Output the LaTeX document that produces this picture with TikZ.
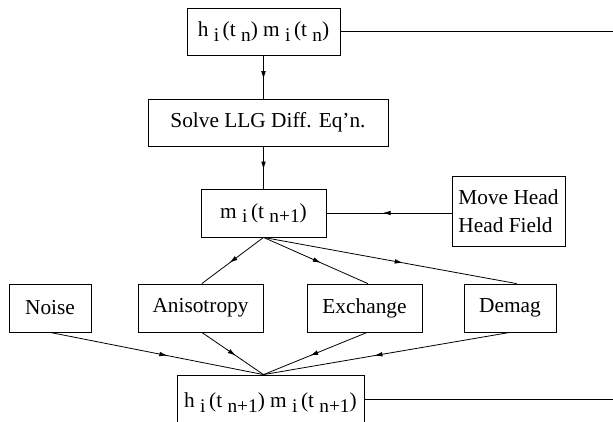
\documentclass[tikz,border=0pt]{standalone}
\usepackage{fontspec}
\setmainfont{Liberation Serif}
\usetikzlibrary{arrows.meta,decorations.markings}
\newcommand{\lowsub}[1]{\raisebox{-0.45ex}{\fontsize{14.5}{14.5}\selectfont #1}}
\tikzset{
  blk/.style={draw, rectangle, inner sep=0pt, line width=0.6pt, font=\fontsize{16}{21}\selectfont},
  midarrow/.style={line width=0.6pt, postaction={decorate},
    decoration={markings, mark=at position 0.55 with {\arrow{Latex[length=6pt,width=3.5pt]}}}}
}
\begin{document}
\begin{tikzpicture}[x=0.75pt,y=-0.75pt]
  \useasboundingbox (0,0) rectangle (613,421);
  \node[blk, minimum width=114.75pt, minimum height=35.25pt] (htn) at (263.5,31.5)
    {h \lowsub{i}\,(t \lowsub{n}) m \lowsub{i}\,(t \lowsub{n})};
  \node[blk, minimum width=180pt, minimum height=35.25pt] (solve) at (268,122.5) {Solve LLG Diff. Eq'n.};
  \node[blk, minimum width=93.75pt, minimum height=36pt] (mtn) at (263.5,213) {m \lowsub{i}\,(t \lowsub{n+1})};
  \node[blk, minimum width=84.75pt, minimum height=52.5pt, align=left] (move) at (508.5,211)
    {Move Head\\Head Field};
  \node[blk, minimum width=61.5pt, minimum height=36pt] (noise) at (50,308) {Noise};
  \node[blk, minimum width=93.75pt, minimum height=36pt] (aniso) at (200.5,308) {Anisotropy};
  \node[blk, minimum width=86.25pt, minimum height=36pt] (exch) at (364.5,308) {Exchange};
  \node[blk, minimum width=69pt, minimum height=36pt] (demag) at (510,308) {Demag};
  \node[blk, minimum width=140.25pt, minimum height=41.25pt] (htnn) at (270.5,402.5)
    {h \lowsub{i}\,(t \lowsub{n+1}) m \lowsub{i}\,(t \lowsub{n+1})};
  \coordinate (topend) at (613,31.5);
  \coordinate (botend) at (613,399);
  \coordinate (join) at (mtn.south |- htnn.north);
  \draw[line width=0.6pt] (htn.east) -- (topend);
  \draw[line width=0.6pt] (htnn.east |- botend) -- (botend);
  \draw[midarrow] (htn.south) -- (htn.south |- solve.north);
  \draw[midarrow] (mtn.north |- solve.south) -- (mtn.north);
  \draw[midarrow] (move.west |- mtn.east) -- (mtn.east);
  \draw[midarrow] (mtn.south) -- ([xshift=1pt]aniso.north);
  \draw[midarrow] (mtn.south) -- ([xshift=2.5pt]exch.north);
  \draw[midarrow] (mtn.south) -- ([xshift=5pt]demag.north);
  \draw[midarrow] (noise.south) -- (join);
  \draw[midarrow] ([xshift=1pt]aniso.south) -- (join);
  \draw[midarrow] ([xshift=2pt]exch.south) -- (join);
  \draw[midarrow] (demag.south) -- (join);
\end{tikzpicture}
\end{document}
